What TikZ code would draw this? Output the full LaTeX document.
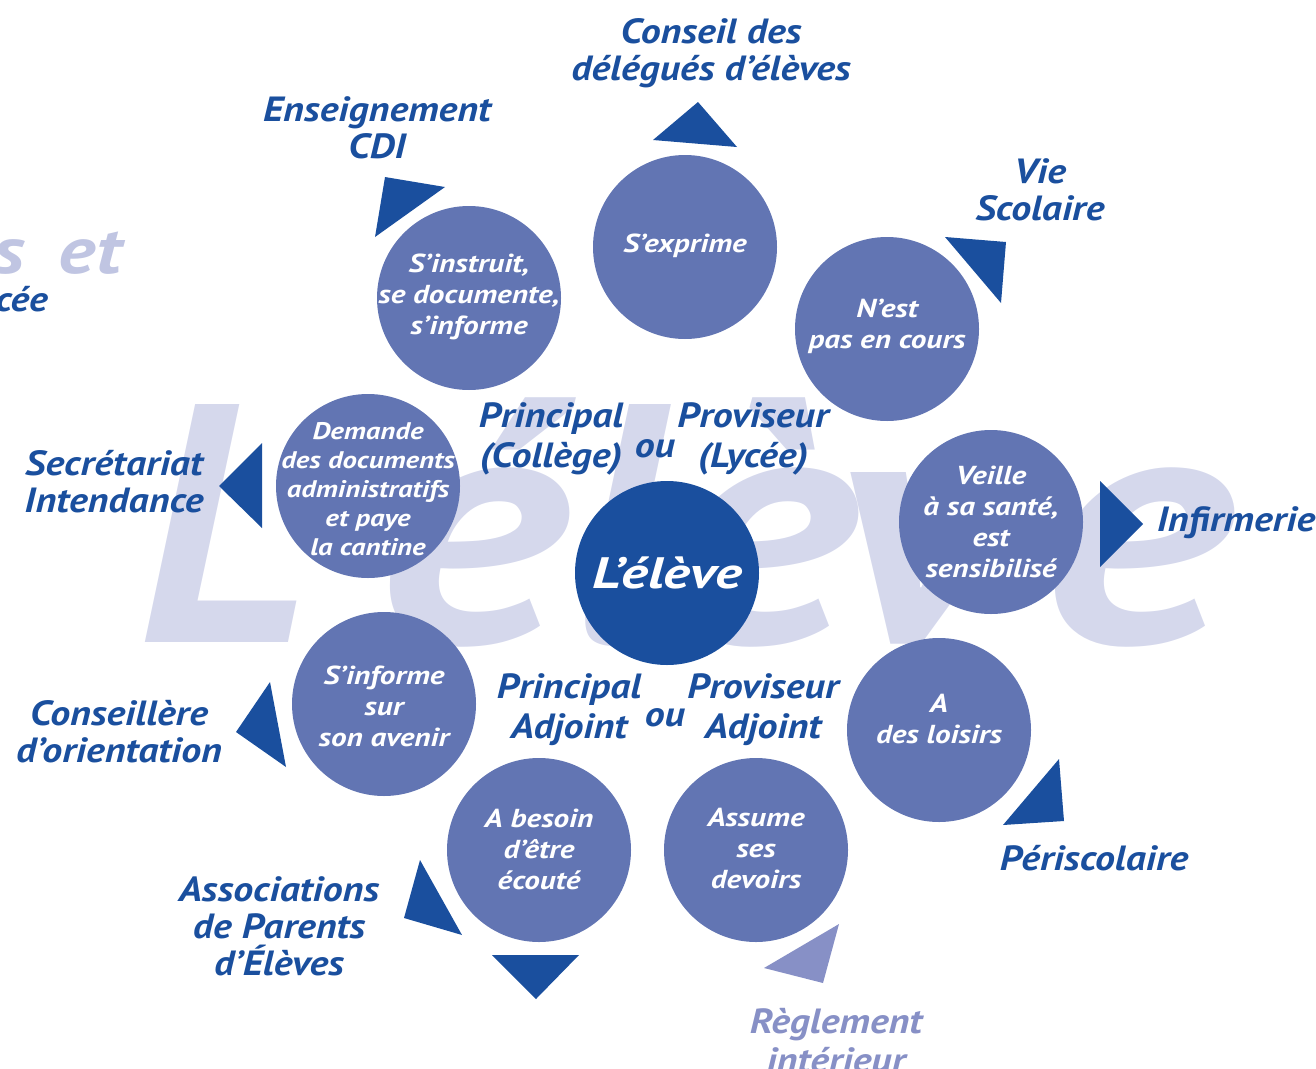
\documentclass[tikz,border=0pt]{standalone}
\usepackage{fontspec}
\setmainfont{PT Sans}
\newfontfamily\fA[FakeStretch=1.2]{PT Sans}
\newfontfamily\fB[FakeStretch=1.14]{PT Sans}
\newfontfamily\fC[FakeStretch=1.3]{PT Sans}
\definecolor{darkblue}{HTML}{1A4F9E}
\definecolor{bubblecol}{HTML}{6275B3}
\definecolor{bigtxt}{HTML}{D5D8EC}
\definecolor{fadetxt}{HTML}{C0C5E2}
\definecolor{regl}{HTML}{8790C6}
\tikzset{
  bubble/.style={circle, fill=bubblecol, minimum size=184pt, inner sep=0pt},
  bubtext/.style={text=white, align=center, inner sep=0pt, font=\fA\bfseries\itshape\fontsize{26}{31}\selectfont},
  lbl/.style={text=darkblue, align=center, inner sep=0pt, font=\fB\bfseries\itshape\fontsize{35}{37}\selectfont},
  role/.style={text=darkblue, align=center, inner sep=0pt, font=\fB\bfseries\itshape\fontsize{35}{40}\selectfont},
  bigletter/.style={anchor=base west, inner sep=0pt, text=bigtxt, font=\bfseries\itshape\fontsize{340}{340}\selectfont},
  bigwide/.style={bigletter, font=\fA\bfseries\itshape\fontsize{340}{340}\selectfont},
  tri/.style={fill=darkblue}
}
\begin{document}
\begin{tikzpicture}[x=1pt,y=-1pt]
\useasboundingbox (0,0) rectangle (1316,1068);
\clip (0,0) rectangle (1316,1068);
% faded page remnants at left
\node[anchor=base east, inner sep=0pt, text=fadetxt, font=\fA\bfseries\itshape\fontsize{66}{66}\selectfont] (fade1) at (122,273) {s\hspace{34pt}et};
\node[anchor=base east, inner sep=0pt, text=darkblue, font=\fB\bfseries\itshape\fontsize{35}{35}\selectfont] (fade2) at (48,311) {cée};
% big background word, letter by letter
\node[bigletter] (bg1) at (138,642) {L};
\node[bigletter] (bg2) at (330,642) {’};
\node[bigwide] (bg3) at (376,642) {é};
\node[bigletter] (bg4) at (574,642) {l};
\node[bigwide] (bg5) at (665,642) {è};
\node[bigwide] (bg6) at (834,642) {v};
\node[bigwide] (bg7) at (1041,642) {e};
% triangles
\fill[tri] (698,102) -- (653,140) -- (737,147) -- cycle;
\fill[tri] (385,177) -- (445,187) -- (375,237) -- cycle;
\fill[tri] (945,237) -- (1006,242) -- (1001,303) -- cycle;
\fill[tri] (1100,481) -- (1143,524) -- (1100,567) -- cycle;
\fill[tri] (1059,759) -- (1064,821) -- (1003,825) -- cycle;
\fill[fill=regl] (839,924) -- (823,983) -- (764,968) -- cycle;
\fill[tri] (492,955) -- (579,955) -- (536,999) -- cycle;
\fill[tri] (420,860) -- (462,935) -- (404,918) -- cycle;
\fill[tri] (270,682) -- (286,767) -- (236,732) -- cycle;
\fill[tri] (262,443) -- (219,486) -- (262,528) -- cycle;
% bubbles
\node[bubble] (c1) at (685,247) {};
\node[bubble] (c2) at (887,329) {};
\node[bubble] (c3) at (991,522) {};
\node[bubble] (c4) at (939,730) {};
\node[bubble] (c5) at (756,850) {};
\node[bubble] (c6) at (539,850) {};
\node[bubble] (c7) at (384,704) {};
\node[bubble] (c8) at (368,486) {};
\node[bubble] (c9) at (469,298) {};
\node[circle, fill=darkblue, minimum size=184pt, inner sep=0pt] (eleve) at (667,573) {};
% bubble texts
\node[bubtext] (t1) at (685,246) {S’exprime};
\node[bubtext] (t2) at (887,326) {N’est\\pas en cours};
\node[bubtext] (t3) at (991,522) {Veille\\à sa santé,\\est\\sensibilisé};
\node[bubtext] (t4) at (939,719) {A\\des loisirs};
\node[bubtext] (t5) at (756,849) {Assume\\ses\\devoirs};
\node[bubtext] (t6) at (539,849) {A besoin\\d’être\\écouté};
\node[bubtext] (t7) at (384,706) {S’informe\\sur\\son avenir};
\node[bubtext, font=\fA\bfseries\itshape\fontsize{24}{29}\selectfont] (t8) at (368,489) {Demande\\des documents\\administratifs\\et paye\\la cantine};
\node[bubtext] (t9) at (469,297) {S’instruit,\\se documente,\\s’informe};
\node[text=white, inner sep=0pt, font=\fC\bfseries\itshape\fontsize{44}{44}\selectfont] (televe) at (eleve) {L’élève};
% outer labels
\node[lbl] (conseil) at (711,53) {Conseil des\\délégués d’élèves};
\node[lbl] (ens) at (377,128) {Enseignement\\CDI};
\node[lbl] (vie) at (1040,190) {Vie\\Scolaire};
\node[lbl] (secr) at (114,482) {Secrétariat\\Intendance};
\node[lbl] (inf) at (1236,523) {Infirmerie};
\node[lbl] (co) at (119,732) {Conseillère\\d’orientation};
\node[lbl] (ape) at (279,926) {Associations\\de Parents\\d’Élèves};
\node[lbl] (peri) at (1094,858) {Périscolaire};
\node[lbl, text=regl, font=\fB\bfseries\itshape\fontsize{35}{39}\selectfont] (regl) at (836,1041) {Règlement\\intérieur};
% roles
\node[role] (princ) at (551,439) {Principal\\(Collège)};
\node[role] (ou1) at (655,449) {ou};
\node[role] (prov) at (753,439) {Proviseur\\(Lycée)};
\node[role] (princa) at (569,710) {Principal\\Adjoint};
\node[role] (ou2) at (665,718) {ou};
\node[role] (prova) at (763,710) {Proviseur\\Adjoint};
\end{tikzpicture}
\end{document}
